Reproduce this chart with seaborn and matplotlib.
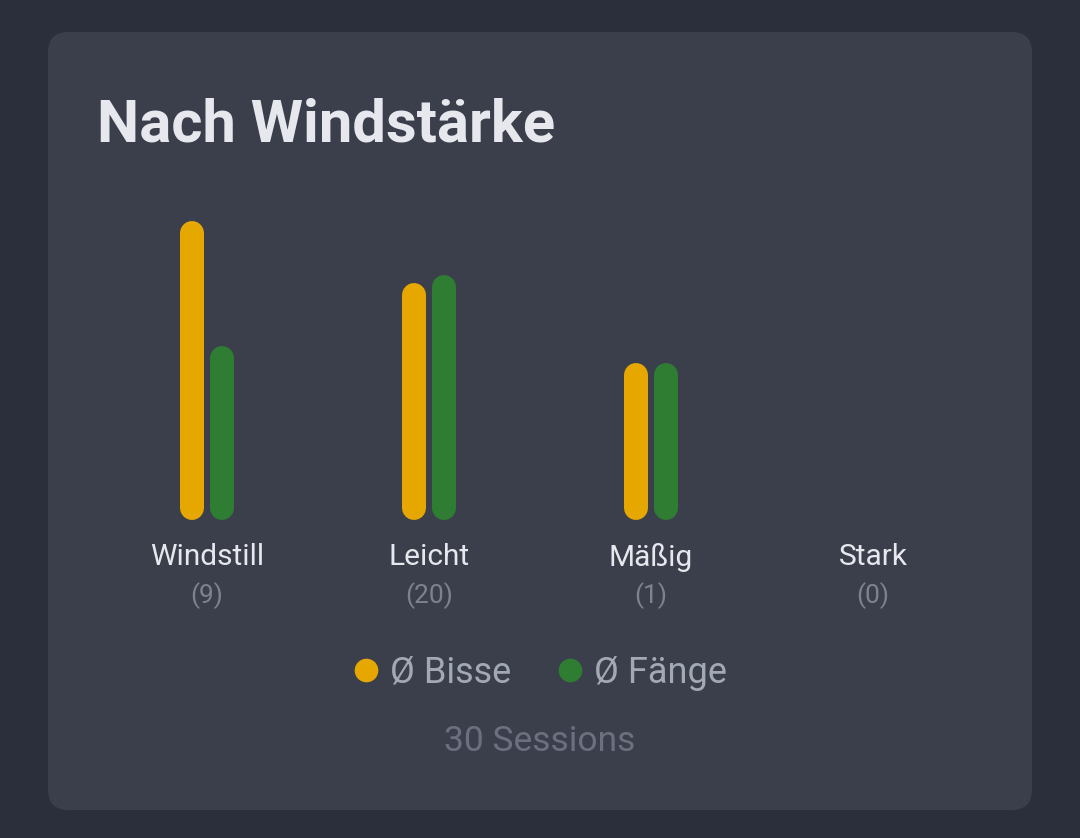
import pandas as pd
import matplotlib.pyplot as plt
import seaborn as sns
from matplotlib.patches import FancyBboxPatch
from matplotlib.lines import Line2D

categories = ['Windstill', 'Leicht', 'Mäßig', 'Stark']
sessions = [9, 20, 1, 0]
avg_bites = [3.0, 2.38, 1.58, 0.0]
avg_catches = [1.75, 2.46, 1.58, 0.0]
series = ['Ø Bisse', 'Ø Fänge']
total_sessions = 30

BG = '#2b2e3b'
CARD = '#3b3f4c'
YELLOW = '#e6a800'
GREEN = '#2e7d32'

sns.set_theme(style='white')
plt.rcParams['font.family'] = ['Roboto', 'DejaVu Sans']

df = pd.DataFrame({
    'cat': categories * 2,
    'series': [series[0]] * 4 + [series[1]] * 4,
    'value': avg_bites + avg_catches,
})

W, H = 1080, 838
fig = plt.figure(figsize=(W / 100, H / 100), dpi=100, facecolor=BG)

# card background
card = FancyBboxPatch((48 / W, 1 - 810 / H), (1032 - 48) / W, (810 - 32) / H,
                      boxstyle='round,pad=0,rounding_size=0.019',
                      mutation_aspect=W / H, zorder=-5,
                      transform=fig.transFigure, facecolor=CARD, edgecolor='none')
fig.patches.append(card)

ax_l, ax_r = 96, 984
ax_top, ax_bot = 200, 520
ax = fig.add_axes([ax_l / W, 1 - ax_bot / H, (ax_r - ax_l) / W, (ax_bot - ax_top) / H])
ax.set_facecolor('none')

sns.barplot(data=df, x='cat', y='value', hue='series', order=categories,
            hue_order=series, palette=[YELLOW, GREEN], width=0.27, gap=0.2,
            saturation=1, legend=False, ax=ax, errorbar=None)
ax.set_xlim(-0.5, 3.5)
ymax = 3.0 * (ax_bot - ax_top) / 299
ax.set_ylim(0, ymax)

# replace square bars by pill shaped ones (thick lines with round caps)
x_per_px = 4.0 / (ax_r - ax_l)
y_per_px = ymax / (ax_bot - ax_top)
for p in list(ax.patches):
    h = p.get_height()
    col = p.get_facecolor()
    cx = p.get_x() + p.get_width() / 2
    w_px = p.get_width() / x_per_px
    p.remove()
    if h <= 0:
        continue
    r = w_px / 2 * y_per_px
    ax.plot([cx, cx], [r, h - r], color=col, linewidth=w_px * 72 / 100,
            solid_capstyle='round')

ax.set_xticks(range(len(categories)))
ax.set_xticklabels([])
ax.set_yticks([])
ax.set_xlabel('')
ax.set_ylabel('')
sns.despine(ax=ax, left=True, bottom=True)
ax.tick_params(length=0)

for i, (c, n) in enumerate(zip(categories, sessions)):
    ax.text(i, -(557 - ax_bot) * y_per_px, c, ha='center', va='center',
            fontsize=21.5, color='#e6e8ee', clip_on=False)
    ax.text(i, -(596 - ax_bot) * y_per_px, f'({n})', ha='center', va='center',
            fontsize=19, color='#7d8290', clip_on=False)

fig.text(97 / W, 1 - 125 / H, 'Nach Windstärke', fontsize=43, fontweight='bold',
         color='#e6e8ee', ha='left', va='center')

handles = [Line2D([], [], marker='o', linestyle='none', markersize=17,
                  markerfacecolor=col, markeredgecolor='none') for col in [YELLOW, GREEN]]
leg = fig.legend(handles, series, loc='center', bbox_to_anchor=(541 / W, 1 - 673 / H),
                 ncol=2, frameon=False, fontsize=26, handlelength=0.6,
                 handletextpad=0.35, columnspacing=1.35, labelcolor='#a3a8b6')

fig.text(540 / W, 1 - 741 / H, f'{total_sessions} Sessions', fontsize=25.5,
         color='#6b7080', ha='center', va='center')

fig.savefig('out.png', dpi=100, facecolor=BG)
